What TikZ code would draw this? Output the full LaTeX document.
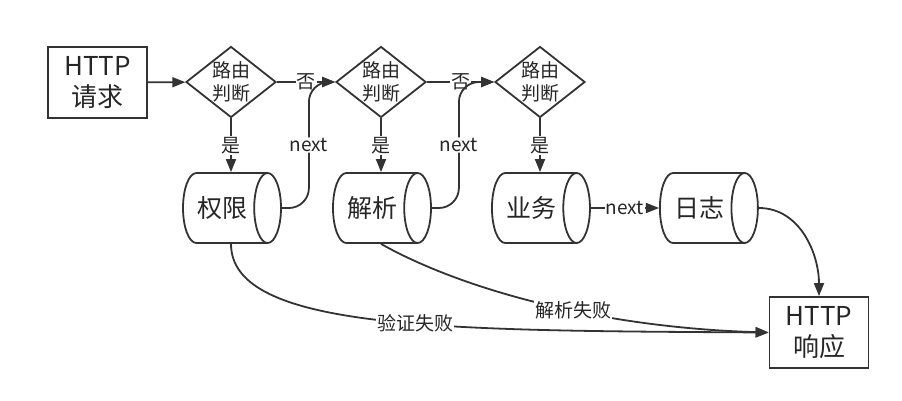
\documentclass[tikz,border=0pt]{standalone}
\usepackage{fontspec}
\setmainfont{Noto Sans CJK SC}
\usetikzlibrary{shapes.geometric,arrows.meta}

\begin{document}
\begin{tikzpicture}[x=1pt,y=-1pt,line width=1.8pt,draw=black!80,text=black!85,
  box/.style={draw,rectangle,minimum width=99pt,minimum height=71pt,align=center,
    font=\fontsize{26}{31}\selectfont},
  choice/.style={draw,diamond,aspect=1.27,inner sep=0pt,minimum width=90pt,minimum height=71pt,
    align=center,font=\fontsize{19}{23}\selectfont},
  stage/.style={draw,cylinder,shape aspect=0.9,minimum height=98pt,minimum width=70pt,
    font=\fontsize{25}{30}\selectfont},
  lbl/.style={fill=white,inner sep=1pt,font=\fontsize{19}{22}\selectfont},
  arr/.style={-{Triangle[length=13pt,width=10pt]}}]
  \useasboundingbox (0,0) rectangle (902,400);

  % request and routing decisions
  \node[box] (req) at (97.5,82.5) {HTTP\\请求};
  \node[choice] (d1) at (231,82) {路由\\判断};
  \node[choice] (d2) at (381,82) {路由\\判断};
  \node[choice] (d3) at (540,82) {路由\\判断};

  % processing stages
  \node[stage] (auth) at (222,208) {权限};
  \node[stage] (parse) at (372,208) {解析};
  \node[stage] (biz) at (531,208) {业务};
  \node[stage] (log) at (699,208) {日志};

  % response
  \node[box] (resp) at (819,332.5) {HTTP\\响应};

  % routing
  \draw[arr] (req) -- (d1);
  \draw[arr] (d1) -- node[lbl] {否} (d2);
  \draw[arr] (d2) -- node[lbl] {否} (d3);
  \draw[arr] (d1) -- node[lbl] {是} (d1 |- auth.north);
  \draw[arr] (d2) -- node[lbl] {是} (d2 |- parse.north);
  \draw[arr] (d3) -- node[lbl] {是} (d3 |- biz.north);

  % next steps
  \draw[arr,rounded corners=20pt] (auth.east) -- ++(27,0) |- node[lbl,pos=0.25] {next} (d2.west);
  \draw[arr,rounded corners=20pt] (parse.east) -- ++(27,0) |- node[lbl,pos=0.25] {next} (d3.west);
  \draw[arr] (biz) -- node[lbl] {next} (log);
  \draw[arr] (log.east) to[out=0,in=90] (resp.north);

  % failures
  \draw[arr] (d1 |- auth.south) .. controls +(0,87) and +(-320,-2) .. node[lbl,pos=0.56] {验证失败} (resp.west);
  \draw[arr] (d2 |- parse.south) .. controls +(80,45) and +(-170,-5) .. node[lbl,pos=0.58] {解析失败} (resp.west);
\end{tikzpicture}
\end{document}
